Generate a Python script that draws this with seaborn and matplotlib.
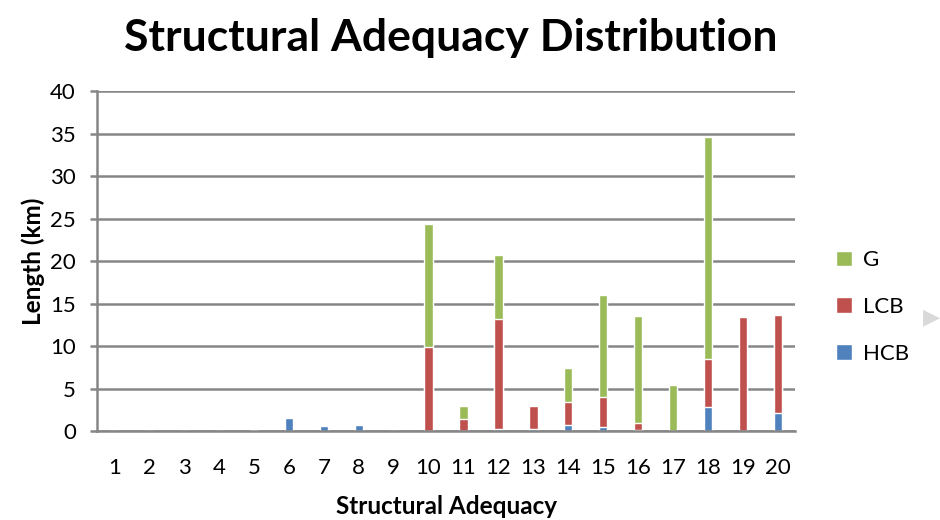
import matplotlib
matplotlib.use("Agg")
import matplotlib.pyplot as plt
import seaborn as sns
import numpy as np

categories = [str(i) for i in range(1, 21)]
hcb = [0, 0, 0, 0, 0, 1.5, 0.6, 0.75, 0, 0, 0, 0.3, 0.2, 0.67, 0.43, 0.1, 0, 2.8, 0, 2.1]
lcb = [0, 0, 0, 0, 0.15, 0, 0, 0, 0, 9.85, 1.4, 12.9, 2.75, 2.8, 3.6, 0.9, 0, 5.65, 13.4, 11.55]
g = [0, 0, 0, 0, 0, 0, 0, 0, 0, 14.45, 1.55, 7.5, 0, 3.9, 12.0, 12.55, 5.45, 26.15, 0, 0]

green = "#9BBB59"
red = "#C0504D"
blue = "#4F81BD"
grid = "#868686"

sns.set_style("white")
plt.rcParams["font.family"] = ["Lato", "DejaVu Sans"]
plt.rcParams["text.color"] = "black"
plt.rcParams["axes.labelcolor"] = "black"
plt.rcParams["xtick.color"] = "black"
plt.rcParams["ytick.color"] = "black"

hcb_a = np.array(hcb)
lcb_top = hcb_a + np.array(lcb)
g_top = lcb_top + np.array(g)

fig = plt.figure(figsize=(9.4, 5.2), dpi=100)
ax = fig.add_axes([0.103, 0.171, 0.743, 0.654])

sns.barplot(x=categories, y=g_top, color=green, width=0.24, label="G", ax=ax, saturation=1)
sns.barplot(x=categories, y=lcb_top, color=red, width=0.24, label="LCB", ax=ax, saturation=1)
sns.barplot(x=categories, y=hcb_a, color=blue, width=0.24, label="HCB", ax=ax, saturation=1)

ax.set_ylim(0, 40)
ax.set_xlim(-0.5, 19.5)
ax.set_yticks(range(0, 41, 5))
ax.yaxis.grid(True, color=grid, linewidth=1.8)
ax.set_axisbelow(True)
for s in ["top", "right"]:
    ax.spines[s].set_visible(False)
ax.spines["left"].set_color(grid)
ax.spines["left"].set_linewidth(1.8)
ax.spines["bottom"].set_color(grid)
ax.spines["bottom"].set_linewidth(1.8)
ax.tick_params(axis="y", left=True, length=5, width=1.8, color=grid, labelcolor="black",
               pad=10, labelsize=16)
ax.tick_params(axis="x", bottom=False, pad=16, labelsize=16, labelcolor="black")

ax.set_xlabel("Structural Adequacy", fontsize=17.5, fontweight="bold", labelpad=12)
ax.set_ylabel("Length (km)", fontsize=17.5, fontweight="bold", labelpad=4)
fig.suptitle("Structural Adequacy Distribution", fontsize=32, fontweight="bold",
             x=0.48, y=0.965)

ax.legend(loc="center left", bbox_to_anchor=(1.03, 0.365), frameon=False, fontsize=16,
          handlelength=0.7, handleheight=0.7, labelspacing=1.2, handletextpad=0.5)

fig.text(1.0, 0.39, "\u25B6", color="#D9D9D9", fontsize=16, ha="right", va="center",
         family="DejaVu Sans")

fig.savefig("out.png", dpi=100)
